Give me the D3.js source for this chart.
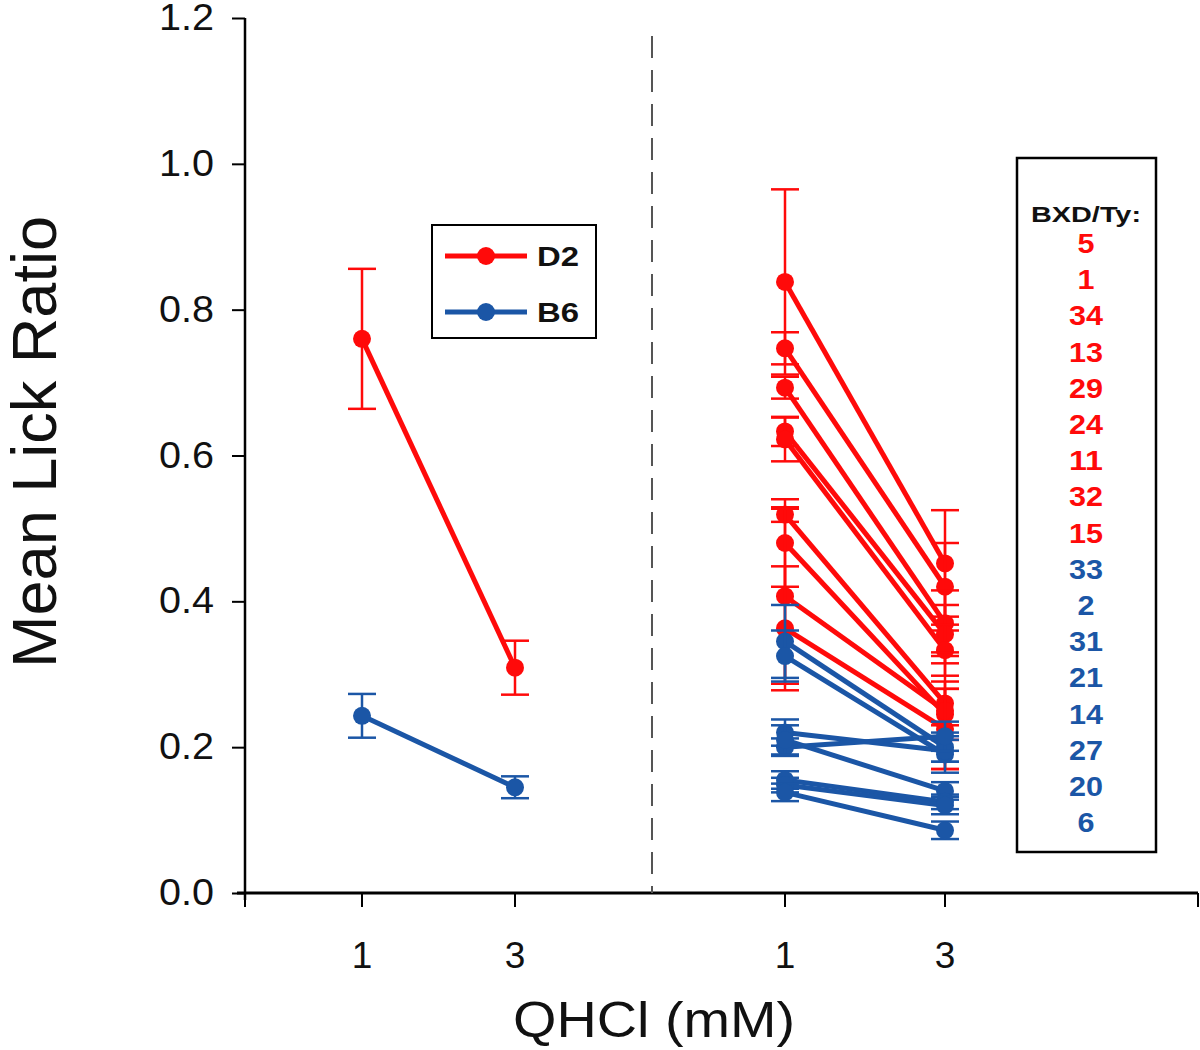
<!DOCTYPE html>
<html lang="en">
<head>
<meta charset="UTF-8">
<title>Mean Lick Ratio</title>
<script src="https://d3js.org/d3.v7.min.js"></script>
<style>
  body { margin: 0; background: #fff; }
  text { font-family: "Liberation Sans", Arial, Helvetica, sans-serif; }
</style>
</head>
<body>
<svg id="chart" width="1200" height="1050"></svg>
<script>
// ---- data ----
var concentrations = [1, 3];

// parental strains (left panel)
var parentNames = ["D2", "B6"];
var d2Mean = [0.760, 0.309];
var d2Err  = [0.096, 0.037];
var b6Mean = [0.243, 0.145];
var b6Err  = [0.030, 0.015];

// BXD/Ty strains (right panel)
var strainNames = ["5", "1", "34", "13", "29", "24", "11", "32", "15",
                   "33", "2", "31", "21", "14", "27", "20", "6"];
var strainGroup = ["D2", "D2", "D2", "D2", "D2", "D2", "D2", "D2", "D2",
                   "B6", "B6", "B6", "B6", "B6", "B6", "B6", "B6"];
var mean1mM = [0.838, 0.747, 0.693, 0.633, 0.622, 0.519, 0.480, 0.407, 0.363,
               0.345, 0.325, 0.220, 0.200, 0.210, 0.155, 0.148, 0.138];
var mean3mM = [0.452, 0.420, 0.370, 0.355, 0.333, 0.260, 0.245, 0.250, 0.225,
               0.200, 0.190, 0.195, 0.215, 0.140, 0.125, 0.120, 0.086];
var err1mM  = [0.127, 0.022, 0.015, 0.020, 0.030, 0.010, 0.060, 0.120, 0.085,
               0.050, 0.035, 0.018, 0.012, 0.020, 0.012, 0.010, 0.012];
var err3mM  = [0.073, 0.060, 0.045, 0.040, 0.035, 0.030, 0.035, 0.080, 0.055,
               0.020, 0.025, 0.015, 0.020, 0.012, 0.010, 0.012, 0.012];

var yTicks = [0, 0.2, 0.4, 0.6, 0.8, 1.0, 1.2];

var colors = { D2: "#ff0a0a", B6: "#1b56a6" };

// ---- layout ----
var svg = d3.select("#chart");

var y = d3.scaleLinear().domain([0, 1.2]).range([893, 18]);
var xLeft = d3.scaleLinear().domain([1, 3]).range([362, 515]);
var xRight = d3.scaleLinear().domain([1, 3]).range([785, 945]);
var axisLeftX = 245, axisRightX = 1198, dividerX = 652;

// y axis
var yAxis = svg.append("g")
  .attr("transform", "translate(" + axisLeftX + ",0)")
  .call(d3.axisLeft(y).tickValues(yTicks).tickFormat(d3.format(".1f")).tickSize(13).tickPadding(18));
yAxis.select(".domain").attr("stroke-width", 2.5).attr("d", "M0," + y(1.2) + "V" + (y(0) + 7));
yAxis.selectAll(".tick line").attr("stroke-width", 2);
yAxis.selectAll(".tick text")
  .attr("font-size", 36)
  .attr("fill", "#111")
  .attr("textLength", 55)
  .attr("lengthAdjust", "spacingAndGlyphs");

// x axis (two panels share one baseline)
var xTickPos = [axisLeftX, xLeft(1), xLeft(3), xRight(1), xRight(3), axisRightX];
svg.append("line")
  .attr("x1", axisLeftX - 8).attr("x2", axisRightX)
  .attr("y1", y(0)).attr("y2", y(0))
  .attr("stroke", "#000").attr("stroke-width", 3);
svg.selectAll("line.xtick")
  .data(xTickPos)
  .enter()
  .append("line")
  .attr("class", "xtick")
  .attr("x1", function(d) { return d; })
  .attr("x2", function(d) { return d; })
  .attr("y1", y(0)).attr("y2", y(0) + 14)
  .attr("stroke", "#000").attr("stroke-width", 2);

var xLabels = [[xLeft, 1], [xLeft, 3], [xRight, 1], [xRight, 3]];
svg.selectAll("text.xlab")
  .data(xLabels)
  .enter()
  .append("text")
  .attr("class", "xlab")
  .attr("x", function(d) { return d[0](d[1]); })
  .attr("y", 968)
  .attr("text-anchor", "middle")
  .attr("font-size", 37)
  .attr("fill", "#111")
  .text(function(d) { return d[1]; });

// axis titles
svg.append("text")
  .attr("x", 654).attr("y", 1037)
  .attr("text-anchor", "middle")
  .attr("font-size", 50)
  .attr("fill", "#111")
  .attr("textLength", 282)
  .attr("lengthAdjust", "spacingAndGlyphs")
  .text("QHCl (mM)");

svg.append("text")
  .attr("transform", "translate(56,442) rotate(-90)")
  .attr("text-anchor", "middle")
  .attr("font-size", 63)
  .attr("fill", "#111")
  .attr("textLength", 452)
  .attr("lengthAdjust", "spacingAndGlyphs")
  .text("Mean Lick Ratio");

// dashed divider
svg.append("line")
  .attr("x1", dividerX).attr("x2", dividerX)
  .attr("y1", 36).attr("y2", y(0))
  .attr("stroke", "#555").attr("stroke-width", 2)
  .attr("stroke-dasharray", "22,12");

// ---- series drawing ----
var lineGen = d3.line()
  .x(function(d) { return d.x; })
  .y(function(d) { return y(d.m); });

function drawSeries(xs, means, errs, color) {
  var pts = concentrations.map(function(c, i) {
    return { x: xs(c), m: means[i], e: errs[i] };
  });
  var g = svg.append("g");
  // error bars
  pts.forEach(function(p) {
    g.append("line")
      .attr("x1", p.x).attr("x2", p.x)
      .attr("y1", y(p.m + p.e)).attr("y2", y(p.m - p.e))
      .attr("stroke", color).attr("stroke-width", 2.5);
    [p.m + p.e, p.m - p.e].forEach(function(v) {
      g.append("line")
        .attr("x1", p.x - 14).attr("x2", p.x + 14)
        .attr("y1", y(v)).attr("y2", y(v))
        .attr("stroke", color).attr("stroke-width", 2.5);
    });
  });
  g.append("path")
    .attr("d", lineGen(pts))
    .attr("fill", "none")
    .attr("stroke", color)
    .attr("stroke-width", 5);
  g.selectAll("circle")
    .data(pts)
    .enter()
    .append("circle")
    .attr("cx", function(d) { return d.x; })
    .attr("cy", function(d) { return y(d.m); })
    .attr("r", 9)
    .attr("fill", color);
}

// left panel: parents
drawSeries(xLeft, d2Mean, d2Err, colors.D2);
drawSeries(xLeft, b6Mean, b6Err, colors.B6);

// right panel: BXD/Ty strains (red first, blue on top)
strainNames.forEach(function(name, i) {
  drawSeries(xRight, [mean1mM[i], mean3mM[i]], [err1mM[i], err3mM[i]], colors[strainGroup[i]]);
});

// ---- legend ----
var legend = svg.append("g");
legend.append("rect")
  .attr("x", 432).attr("y", 225).attr("width", 164).attr("height", 113)
  .attr("fill", "#fff").attr("stroke", "#000").attr("stroke-width", 2);
parentNames.forEach(function(name, i) {
  var ly = 256 + i * 56;
  legend.append("line")
    .attr("x1", 445).attr("x2", 527).attr("y1", ly).attr("y2", ly)
    .attr("stroke", colors[name]).attr("stroke-width", 5);
  legend.append("circle")
    .attr("cx", 486).attr("cy", ly).attr("r", 9)
    .attr("fill", colors[name]);
  legend.append("text")
    .attr("x", 537).attr("y", ly + 10)
    .attr("font-size", 27)
    .attr("font-weight", "bold")
    .attr("fill", "#111")
    .attr("textLength", 42)
    .attr("lengthAdjust", "spacingAndGlyphs")
    .text(name);
});

// strain key box
var key = svg.append("g");
key.append("rect")
  .attr("x", 1017).attr("y", 158).attr("width", 139).attr("height", 694)
  .attr("fill", "#fff").attr("stroke", "#000").attr("stroke-width", 2.5);
key.append("text")
  .attr("x", 1086).attr("y", 222)
  .attr("text-anchor", "middle")
  .attr("font-size", 22)
  .attr("font-weight", "bold")
  .attr("fill", "#111")
  .attr("textLength", 110)
  .attr("lengthAdjust", "spacingAndGlyphs")
  .text("BXD/Ty:");
key.selectAll("text.strain")
  .data(strainNames)
  .enter()
  .append("text")
  .attr("class", "strain")
  .attr("x", 1086)
  .attr("y", function(d, i) { return 253 + i * 36.2; })
  .attr("text-anchor", "middle")
  .attr("font-size", 27)
  .attr("font-weight", "bold")
  .attr("fill", function(d, i) { return colors[strainGroup[i]]; })
  .attr("textLength", function(d) { return d.length * 17; })
  .attr("lengthAdjust", "spacingAndGlyphs")
  .text(function(d) { return d; });
</script>
</body>
</html>
